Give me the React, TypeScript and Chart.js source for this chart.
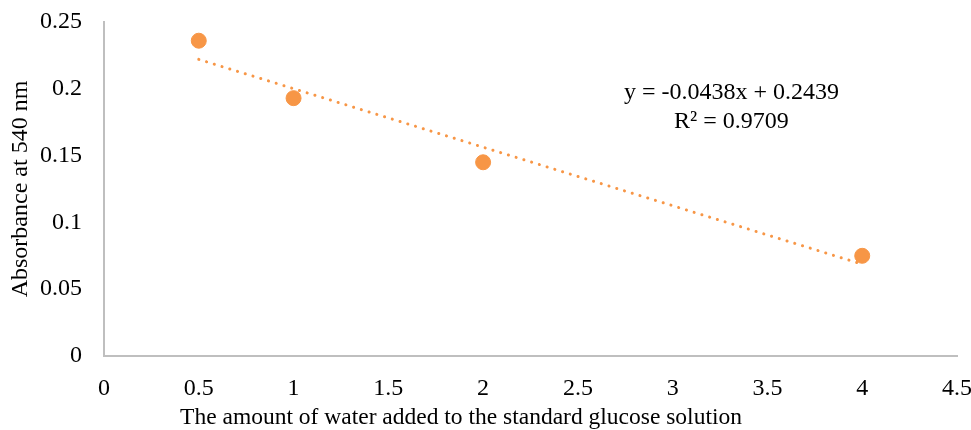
import React, { useEffect, useRef } from "react";
import { Chart, registerables } from "chart.js";

Chart.register(...registerables);

const waterAdded = [0.5, 1, 2, 4];
const absorbance = [0.236, 0.193, 0.145, 0.075];
const trendSlope = -0.0438;
const trendIntercept = 0.2439;
const trendRange = [0.5, 4];
const equationLines = ["y = -0.0438x + 0.2439", "R\u00B2 = 0.9709"];
const xTitle = "The amount of water added to the standard glucose solution";
const yTitle = "Absorbance at 540 nm";

const ORANGE = "#F79646";
const FONT = "'Liberation Serif', 'Times New Roman', serif";

const fmt = (v: any) => String(Number(Number(v).toFixed(2)));

const textPlugin = {
  id: "extraText",
  afterDatasetsDraw(chart: any) {
    const { ctx, scales } = chart;
    const x = scales.x.getPixelForValue(3.31);
    const y = scales.y.getPixelForValue(0.197);
    ctx.save();
    ctx.font = `24px ${FONT}`;
    ctx.fillStyle = "#000";
    ctx.textAlign = "center";
    ctx.textBaseline = "middle";
    equationLines.forEach((line, i) => ctx.fillText(line, x, y + i * 29));
    // x-axis title (offset left of the plot centre, as in the original)
    ctx.font = `23.5px ${FONT}`;
    ctx.textBaseline = "alphabetic";
    ctx.fillText(xTitle, 461, 424);
    ctx.restore();
  },
};

export default function App() {
  const ref = useRef<HTMLCanvasElement>(null);
  useEffect(() => {
    const points = waterAdded.map((x, i) => ({ x, y: absorbance[i] }));
    const trend = trendRange.map((x) => ({ x, y: trendSlope * x + trendIntercept }));
    const chart = new Chart(ref.current!, {
      type: "scatter",
      data: {
        datasets: [
          {
            type: "line",
            data: trend,
            borderColor: ORANGE,
            borderWidth: 3,
            borderDash: [0.1, 8],
            borderCapStyle: "round",
            pointRadius: 0,
            fill: false,
          } as any,
          {
            data: points,
            backgroundColor: ORANGE,
            borderColor: ORANGE,
            pointRadius: 7.5,
            pointHoverRadius: 7.5,
          },
        ],
      },
      options: {
        animation: false,
        responsive: false,
        maintainAspectRatio: false,
        layout: { padding: { top: 22, right: 14, left: 0, bottom: 0 } },
        plugins: { legend: { display: false }, tooltip: { enabled: false } },
        scales: {
          x: {
            type: "linear",
            min: 0,
            max: 4.5,
            ticks: { stepSize: 0.5, color: "#000", font: { family: FONT, size: 24 }, padding: 18, callback: fmt },
            grid: { display: false, drawTicks: false },
            border: { display: true, color: "#BFBFBF", width: 2 },
            title: { display: false },
            afterFit: (s: any) => { s.height = 74; s.paddingLeft = 0; s.paddingRight = 0; },
          },
          y: {
            type: "linear",
            min: 0,
            max: 0.25,
            ticks: { stepSize: 0.05, color: "#000", font: { family: FONT, size: 24 }, padding: 22, callback: fmt },
            grid: { display: false, drawTicks: false },
            border: { display: true, color: "#BFBFBF", width: 2 },
            title: { display: true, text: yTitle, color: "#000", font: { family: FONT, size: 24 }, padding: { top: 6, bottom: 0 } },
            afterFit: (s: any) => { s.width = 104; s.paddingTop = 0; s.paddingBottom = 0; },
          },
        },
      },
      plugins: [textPlugin],
    });
    return () => chart.destroy();
  }, []);
  return (
    <div style={{ position: "absolute", left: 0, top: 0, width: 971, height: 430, background: "#fff" }}>
      <canvas ref={ref} width={971} height={430} style={{ display: "block" }} />
    </div>
  );
}
